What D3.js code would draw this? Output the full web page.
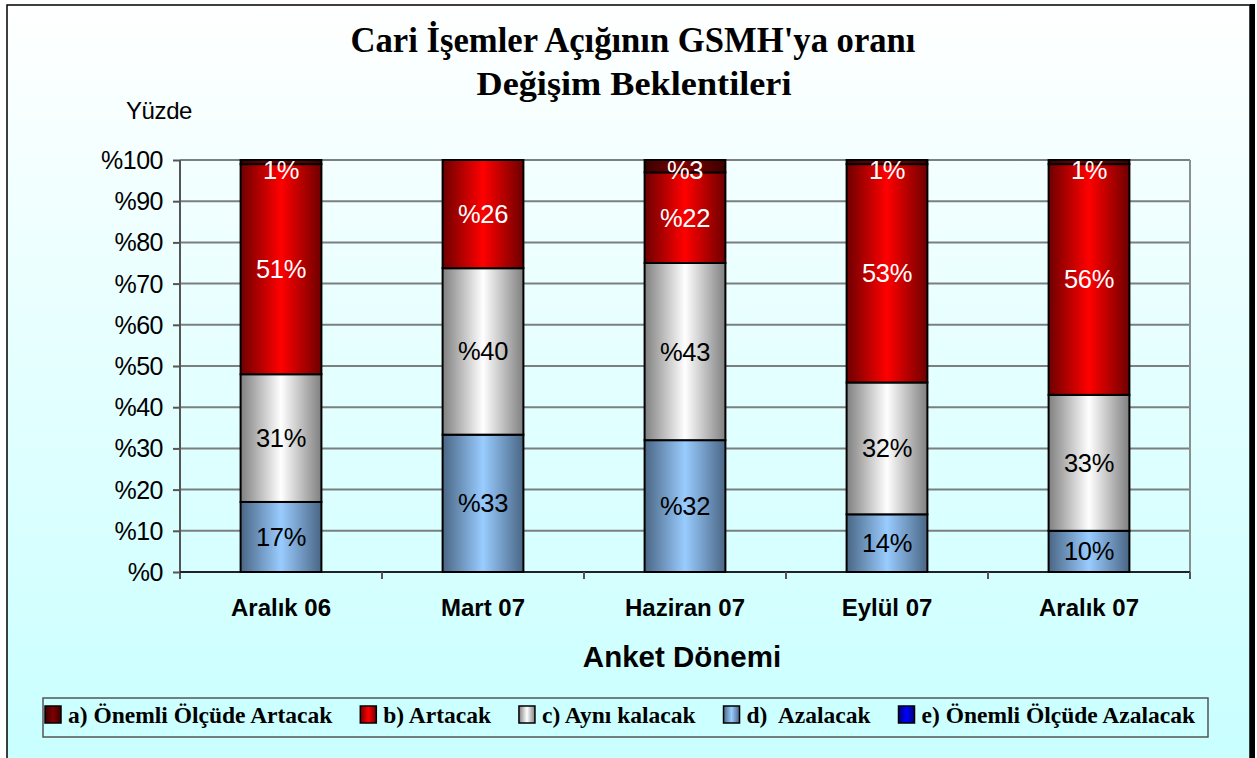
<!DOCTYPE html>
<html>
<head>
<meta charset="utf-8">
<script src="https://cdn.jsdelivr.net/npm/d3@7"></script>
<style>
  body { margin: 0; background: #fff; }
  svg { display: block; }
</style>
</head>
<body>
<svg id="chart" width="1257" height="758"></svg>
<script>
// data
const categories = ['Aralık 06', 'Mart 07', 'Haziran 07', 'Eylül 07', 'Aralık 07']
const seriesNames = ['a) Önemli Ölçüde Artacak', 'b) Artacak', 'c) Aynı kalacak', 'd)  Azalacak', 'e) Önemli Ölçüde Azalacak']
const valA = [1, 0, 3, 1, 1]
const valB = [51, 26, 22, 53, 56]
const valC = [31, 40, 43, 32, 33]
const valD = [17, 33, 32, 14, 10]
const valE = [0, 0, 0, 0, 0]
const labelA = ['1%', '', '%3', '1%', '1%']
const labelB = ['51%', '%26', '%22', '53%', '56%']
const labelC = ['31%', '%40', '%43', '32%', '33%']
const labelD = ['17%', '%33', '%32', '14%', '10%']
const yTicks = [0, 10, 20, 30, 40, 50, 60, 70, 80, 90, 100]

const svg = d3.select('#chart')
const defs = svg.append('defs')
const sans = 'Liberation Sans, Arial, sans-serif'
const serif = 'Liberation Serif, Times New Roman, serif'

function hGrad (id, edge, mid) {
  const g = defs.append('linearGradient').attr('id', id)
    .attr('x1', 0).attr('x2', 1).attr('y1', 0).attr('y2', 0)
  g.append('stop').attr('offset', '0%').attr('stop-color', edge)
  g.append('stop').attr('offset', '50%').attr('stop-color', mid)
  g.append('stop').attr('offset', '100%').attr('stop-color', edge)
}
hGrad('gA', '#3a0000', '#800000')
hGrad('gB', '#6e0000', '#ff0000')
hGrad('gC', '#808080', '#ffffff')
hGrad('gD', '#4a6685', '#99ccff')
hGrad('gE', '#00007a', '#0000ff')
const fills = ['url(#gA)', 'url(#gB)', 'url(#gC)', 'url(#gD)', 'url(#gE)']
const textColors = ['#fff', '#fff', '#000', '#000', '#fff']

const bg = defs.append('linearGradient').attr('id', 'bg')
  .attr('x1', 0).attr('x2', 0).attr('y1', 0).attr('y2', 1)
bg.append('stop').attr('offset', '0%').attr('stop-color', '#ffffff')
bg.append('stop').attr('offset', '100%').attr('stop-color', '#c8ffff')

// chart area
svg.append('rect').attr('x', 7).attr('y', 5).attr('width', 1243).attr('height', 760)
  .attr('fill', 'url(#bg)').attr('stroke', '#000').attr('stroke-width', 1.5)
svg.append('line').attr('x1', 1252.5).attr('x2', 1252.5).attr('y1', 4).attr('y2', 758)
  .attr('stroke', '#000').attr('stroke-width', 5)

// title
const title = svg.append('g').attr('font-family', serif)
  .attr('font-weight', 'bold').attr('text-anchor', 'middle')
title.append('text').attr('x', 633).attr('y', 52).attr('font-size', 35)
  .attr('textLength', 565).attr('lengthAdjust', 'spacingAndGlyphs')
  .text("Cari İşemler Açığının GSMH'ya oranı")
title.append('text').attr('x', 634).attr('y', 95).attr('font-size', 34)
  .attr('textLength', 315).attr('lengthAdjust', 'spacingAndGlyphs')
  .text('Değişim Beklentileri')

const x = d3.scaleBand().domain(categories).range([180, 1190])
  .paddingInner(0.6).paddingOuter(0.3)
const y = d3.scaleLinear().domain([0, 100]).range([572, 160])

// gridlines
svg.append('g').selectAll('line').data(yTicks.filter(d => d > 0)).join('line')
  .attr('x1', 180).attr('x2', 1190)
  .attr('y1', d => y(d)).attr('y2', d => y(d))
  .attr('stroke', '#7a7f80').attr('stroke-width', 2)
svg.append('line').attr('x1', 1190).attr('x2', 1190).attr('y1', 160).attr('y2', 572)
  .attr('stroke', '#8a8f90').attr('stroke-width', 2)

// y axis
const yAxis = d3.axisLeft(y).tickValues(yTicks).tickSize(7).tickPadding(10)
  .tickFormat(d => '%' + d)
const gy = svg.append('g').attr('transform', 'translate(180,0)').call(yAxis)
gy.select('.domain').attr('stroke', '#555').attr('stroke-width', 2)
  .attr('d', 'M0,160V579')
gy.selectAll('.tick line').attr('stroke', '#555').attr('stroke-width', 2)
gy.selectAll('text').attr('font-family', sans)
  .attr('font-size', 25).attr('letter-spacing', -0.5).attr('fill', '#000')
  .attr('dy', '0.34em')

// x axis
const step = x.step()
const xAxis = d3.axisBottom(x).tickSize(0).tickPadding(27)
const gx = svg.append('g').attr('transform', 'translate(0,572)').call(xAxis)
gx.select('.domain').attr('stroke', '#222').attr('stroke-width', 2).attr('d', 'M180,0H1190')
gx.selectAll('text').attr('font-family', sans)
  .attr('font-size', 24).attr('font-weight', 'bold').attr('fill', '#000')
gx.append('g').selectAll('line').data(categories).join('line')
  .attr('x1', d => x(d) + x.bandwidth() / 2 + step / 2)
  .attr('x2', d => x(d) + x.bandwidth() / 2 + step / 2)
  .attr('y1', 0).attr('y2', 7)
  .attr('stroke', '#555').attr('stroke-width', 2)

// stacked bars
const rows = categories.map((c, i) => ({
  cat: c, a: valA[i], b: valB[i], c: valC[i], d: valD[i], e: valE[i]
}))
const keys = ['e', 'd', 'c', 'b', 'a']
const stack = d3.stack().keys(keys).offset(d3.stackOffsetExpand)
const layers = stack(rows)
const labelSets = { a: labelA, b: labelB, c: labelC, d: labelD, e: [] }
const keyIdx = { a: 0, b: 1, c: 2, d: 3, e: 4 }

layers.forEach(layer => {
  const k = layer.key
  svg.append('g').selectAll('rect').data(layer.filter(p => p[1] - p[0] > 0)).join('rect')
    .attr('x', p => x(p.data.cat))
    .attr('width', x.bandwidth())
    .attr('y', p => y(p[1] * 100))
    .attr('height', p => y(p[0] * 100) - y(p[1] * 100))
    .attr('fill', fills[keyIdx[k]])
    .attr('stroke', '#000').attr('stroke-width', 2)
})

layers.forEach(layer => {
  const k = layer.key
  svg.append('g').selectAll('text').data(layer.filter((p, i) => labelSets[k][i])).join('text')
    .attr('x', p => x(p.data.cat) + x.bandwidth() / 2)
    .attr('y', p => {
      const mid = (y(p[0] * 100) + y(p[1] * 100)) / 2
      return k === 'a' ? y(100) + 19 : mid + 9
    })
    .attr('text-anchor', 'middle')
    .attr('font-family', sans)
    .attr('font-size', 25.5).attr('letter-spacing', -0.4)
    .attr('fill', textColors[keyIdx[k]])
    .text(p => labelSets[k][categories.indexOf(p.data.cat)])
})

// axis titles
svg.append('text').attr('x', 126).attr('y', 119)
  .attr('font-family', sans)
  .attr('font-size', 24).attr('letter-spacing', -0.4).text('Yüzde')
svg.append('text').attr('x', 682).attr('y', 667).attr('text-anchor', 'middle')
  .attr('font-family', sans)
  .attr('font-size', 29.5).attr('font-weight', 'bold')
  .text('Anket Dönemi')

// legend, entries packed left to right between 45 and 1195
const lg = svg.append('g')
lg.append('rect').attr('x', 43).attr('y', 698).attr('width', 1165).attr('height', 39)
  .attr('fill', '#ccffff').attr('stroke', '#555').attr('stroke-width', 1.5)
const items = seriesNames.map((name, i) => {
  const item = lg.append('g')
  item.append('rect').attr('x', 0).attr('y', 0).attr('width', 16).attr('height', 17)
    .attr('fill', fills[i]).attr('stroke', '#000').attr('stroke-width', 1.5)
  const t = item.append('text').attr('x', 23).attr('y', 17)
    .attr('font-family', serif)
    .attr('font-weight', 'bold').attr('font-size', 23.5)
    .style('white-space', 'pre')
    .text(name)
  return { item, w: 23 + t.node().getComputedTextLength() }
})
const used = d3.sum(items, d => d.w)
const gap = (1195 - 45 - used) / (items.length - 1)
let cx = 45
items.forEach(d => {
  d.item.attr('transform', `translate(${cx},706)`)
  cx += d.w + gap
})
</script>
</body>
</html>
